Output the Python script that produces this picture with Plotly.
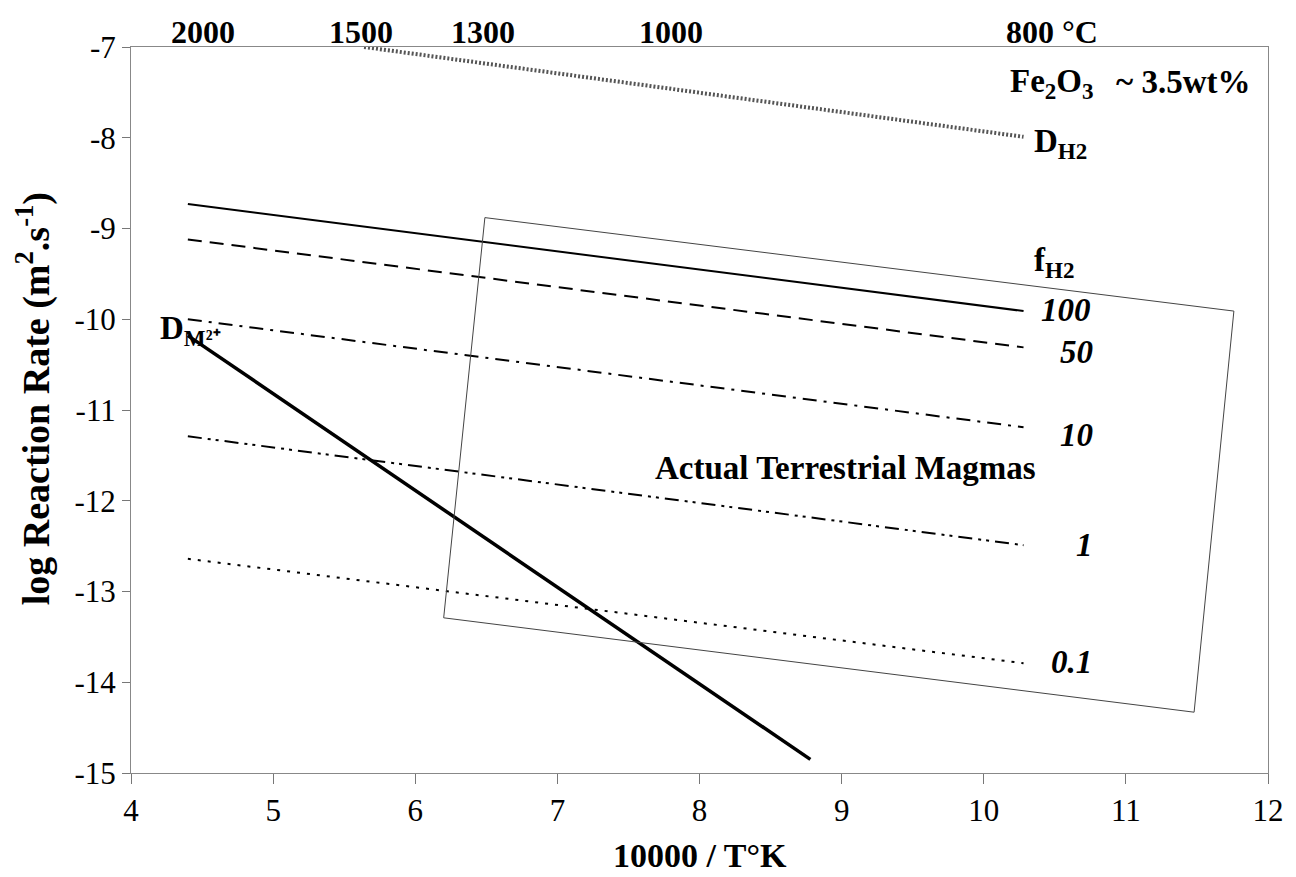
import plotly.graph_objects as go

# 10000/T (K) at 2000 °C and 700 °C: span of the f_H2 curves
x_fh2 = [4.40, 10.28]

# log reaction rate for each H2 fugacity
fh2_labels = ["100", "50", "10", "1", "0.1"]
y_fh2_100 = [-8.73, -9.91]
y_fh2_50 = [-9.12, -10.31]
y_fh2_10 = [-10.00, -11.19]
y_fh2_1 = [-11.29, -12.49]
y_fh2_01 = [-12.64, -13.79]

# H2 diffusivity
x_dh2 = [5.64, 10.28]
y_dh2 = [-7.00, -7.99]

# divalent cation diffusivity
x_dm = [4.40, 8.78]
y_dm = [-10.18, -14.85]

# field of actual terrestrial magmas (closed quadrilateral)
x_box = [6.49, 11.76, 11.48, 6.20, 6.49]
y_box = [-8.88, -9.91, -14.33, -13.29, -8.88]

# axis ticks
x_tick_vals = [4, 5, 6, 7, 8, 9, 10, 11, 12]
x_tick_text = ["4", "5", "6", "7", "8", "9", "10", "11", "12"]
y_tick_vals = [-15, -14, -13, -12, -11, -10, -9, -8, -7]
y_tick_text = ["-15", "-14", "-13", "-12", "-11", "-10", "-9", "-8", "-7"]

# temperature scale along the top (°C) and where each label sits
temp_labels = ["2000", "1500", "1300", "1000", "800 °C"]
temp_x = [4.51, 5.62, 6.48, 7.80, 10.48]

# label positions for the fugacity values
fh2_label_x = [10.58, 10.65, 10.65, 10.71, 10.62]
fh2_label_y = [-9.90, -10.36, -11.27, -12.49, -13.78]

SERIF = "Liberation Serif, Times New Roman, serif"
ANN = 33

fig = go.Figure()

fh2_series = [y_fh2_100, y_fh2_50, y_fh2_10, y_fh2_1, y_fh2_01]
fh2_dash = ["solid", "14px,8px", "14px,7px,3px,7px",
            "14px,6px,3px,5px,3px,6px", "3px,7px"]
for name, ys, dash in zip(fh2_labels, fh2_series, fh2_dash):
    fig.add_trace(go.Scatter(x=x_fh2, y=ys, mode="lines", name=name,
                             line=dict(color="black", width=2, dash=dash)))

fig.add_trace(go.Scatter(x=x_dh2, y=y_dh2, mode="lines", name="D_H2",
                         line=dict(color="#555555", width=4, dash="2px,2px")))
fig.add_trace(go.Scatter(x=x_dm, y=y_dm, mode="lines", name="D_M2+",
                         line=dict(color="black", width=3.5)))
fig.add_trace(go.Scatter(x=x_box, y=y_box, mode="lines", name="magmas",
                         line=dict(color="#444444", width=1)))

annotations = []
for lab, xv in zip(temp_labels, temp_x):
    annotations.append(dict(x=xv, y=1.021, xref="x", yref="paper", text="<b>%s</b>" % lab,
                            showarrow=False, font=dict(family=SERIF, size=32, color="black"),
                            xanchor="center", yanchor="middle"))

for lab, xv, yv in zip(fh2_labels, fh2_label_x, fh2_label_y):
    annotations.append(dict(x=xv, y=yv, xref="x", yref="y", text="<b><i>%s</i></b>" % lab,
                            showarrow=False, font=dict(family=SERIF, size=ANN, color="black"),
                            xanchor="center", yanchor="middle"))

text_items = [
    (10.50, -9.37, "<b>f<sub>H2</sub></b>"),
    (10.54, -8.06, "<b>D<sub>H2</sub></b>"),
    (10.48, -7.40, "<b>Fe<sub>2</sub>O<sub>3</sub></b>"),
    (11.40, -7.39, "<b>~ 3.5wt%</b>"),
    (4.42, -10.12, "<b>D<sub>M²⁺</sub></b>"),
    (9.03, -11.64, "<b>Actual Terrestrial Magmas</b>"),
]
for xv, yv, txt in text_items:
    annotations.append(dict(x=xv, y=yv, xref="x", yref="y", text=txt, showarrow=False,
                            font=dict(family=SERIF, size=ANN, color="black"),
                            xanchor="center", yanchor="middle"))

annotations.append(dict(x=0.5, y=-0.113, xref="paper", yref="paper",
                        text="<b>10000 / T°K</b>", showarrow=False,
                        font=dict(family=SERIF, size=34, color="black"),
                        xanchor="center", yanchor="middle"))
annotations.append(dict(x=-0.086, y=0.515, xref="paper", yref="paper",
                        text="<b>log Reaction Rate (m<sup>2</sup>.s<sup>-1</sup>)</b>",
                        showarrow=False, textangle=-90,
                        font=dict(family=SERIF, size=38, color="black"),
                        xanchor="center", yanchor="middle"))

fig.update_layout(
    width=1296, height=877,
    margin=dict(l=131, r=21, t=47, b=104),
    paper_bgcolor="white", plot_bgcolor="white",
    showlegend=False,
    annotations=annotations,
    font=dict(family=SERIF, size=31, color="black"),
)
fig.update_xaxes(range=[4, 12], tickvals=x_tick_vals, ticktext=x_tick_text,
                 ticks="outside", ticklen=10,
                 tickcolor="#777777", showgrid=False, zeroline=False,
                 showline=True, linecolor="#888888", linewidth=1, mirror=True,
                 tickfont=dict(family=SERIF, size=31, color="black"))
fig.update_yaxes(range=[-15, -7], tickvals=y_tick_vals, ticktext=y_tick_text,
                 ticks="outside", ticklen=8,
                 tickcolor="#777777", showgrid=False, zeroline=False,
                 showline=True, linecolor="#888888", linewidth=1, mirror=True,
                 tickfont=dict(family=SERIF, size=31, color="black"))

fig.write_html("out.html")
